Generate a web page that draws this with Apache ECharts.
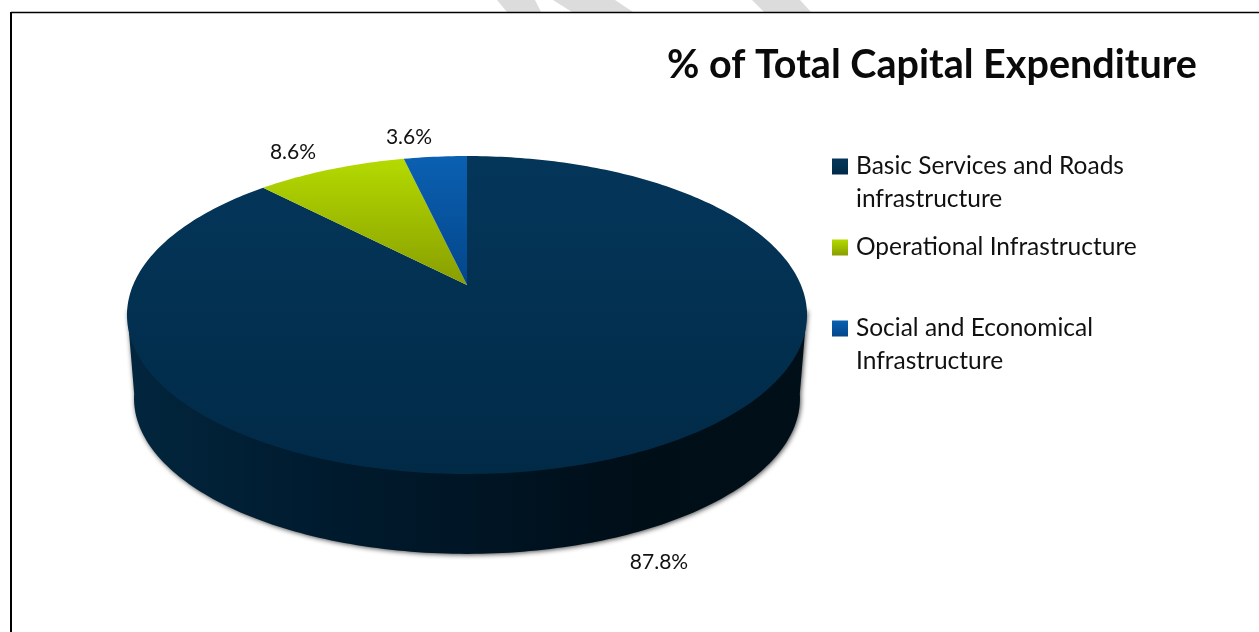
<!DOCTYPE html>
<html>
<head>
<meta charset="utf-8">
<style>html,body{margin:0;padding:0;background:#fff}#c{width:1259px;height:632px}</style>
<script src="https://cdn.jsdelivr.net/npm/echarts@6/dist/echarts.min.js"></script>
</head>
<body>
<div id="c"></div>
<script>
const categories = ['Basic Services and Roads\ninfrastructure', 'Operational Infrastructure', 'Social and Economical\nInfrastructure'];
const values = [87.8, 8.6, 3.6];
const titleText = '% of Total Capital Expenditure';

const colorStops = [['#04365a', '#012a47'], ['#b4da00', '#889e00'], ['#0b60b2', '#03468a']];
const labelPos = [[659, 562], [293, 152], [409, 137]];
const legendTops = [117, 231, 279];
const apex = [467, 285];
const topRim = { R: 333.9, A: 153.3, k: 0.1887, x: 467, y: 285 };
const lowRim = { R: 327, A: 150, k: 0.1887, x: 467, y: 369 };

function project(p, deg) {
  const t = deg * Math.PI / 180, u = Math.sin(t), v = Math.cos(t), w = 1 + p.k * v;
  return [p.x + p.R * u / w, p.y - p.A * v / w];
}
function arc(p, a0, a1) {
  const pts = [], n = Math.max(2, Math.ceil(Math.abs(a1 - a0)));
  for (let i = 0; i <= n; i++) pts.push(project(p, a0 + (a1 - a0) * i / n));
  return pts;
}
function grad(c, horizontal) {
  return { type: 'linear', x: 0, y: 0, x2: horizontal ? 1 : 0, y2: horizontal ? 0 : 1,
    colorStops: c.map((col, i) => ({ offset: i / (c.length - 1), color: col })) };
}
const total = values.reduce((a, b) => a + b, 0);
const fontName = 'Lato';

function renderSlice(index) {
  return function (params, api) {
    const value = api.value(0);
    const before = values.slice(0, index).reduce((a, b) => a + b, 0);
    const a0 = before / total * 360, a1 = a0 + value / total * 360;
    const children = [];
    if (a1 > 99 && a0 < 261) {
      const leftA = 260.8, rightA = 99.2;
      const rimPts = arc(lowRim, rightA, leftA).reverse();
      const wall = [project(topRim, leftA)].concat(rimPts, [project(topRim, rightA)]);
      children.push({
        type: 'polygon', shape: { points: wall },
        style: {
          fill: grad(['#02263e', '#001c30', '#001525', '#000e18', '#000f18'], true),
          shadowBlur: 5, shadowColor: 'rgba(0,0,0,0.7)', shadowOffsetX: 1, shadowOffsetY: 1
        }
      });
    }
    const face = [apex].concat(arc(topRim, a0, a1));
    children.push({ type: 'polygon', shape: { points: face }, style: { fill: grad(colorStops[index]) } });
    children.push({
      type: 'text', x: labelPos[index][0], y: labelPos[index][1],
      style: { text: value.toFixed(1) + '%', fill: '#111', font: '21px ' + fontName, align: 'center', verticalAlign: 'middle' }
    });
    return { type: 'group', children };
  };
}

const chart = echarts.init(document.getElementById('c'), null, { renderer: 'canvas' });
chart.setOption({
  animation: false,
  backgroundColor: '#fff',
  title: {
    text: titleText, left: 662, top: 40,
    textStyle: { fontFamily: fontName, fontSize: 39.5, fontWeight: 'bold', color: '#0a0a0a' }
  },
  legend: categories.map((name, i) => ({
    data: [name], left: 832, top: legendTops[i], orient: 'vertical',
    padding: 0, itemWidth: 16, itemHeight: 16, icon: 'rect', selectedMode: false,
    // A leading blank line centres the symbol on the first line of a two-line label.
    formatter: n => (n.includes('\n') ? '\n' : '') + n,
    textStyle: { fontFamily: fontName, fontSize: 24.5, lineHeight: 33, color: '#111', padding: [0, 0, 0, 3] }
  })),
  graphic: [
    { type: 'polygon', silent: true, shape: { points: [[497, 0], [535, 0], [541, 12], [507, 12]] }, style: { fill: '#dcdcdc' } },
    { type: 'polygon', silent: true, shape: { points: [[553, 0], [615, 0], [633, 12], [572, 12]] }, style: { fill: '#dcdcdc' } },
    { type: 'polygon', silent: true, shape: { points: [[752, 0], [800, 0], [811, 12], [764, 12]] }, style: { fill: '#dcdcdc' } },
    { type: 'line', silent: true, shape: { x1: 11, y1: 12.5, x2: 1259, y2: 12.5 }, style: { stroke: '#000', lineWidth: 1.5 } },
    { type: 'line', silent: true, shape: { x1: 11, y1: 12, x2: 11, y2: 632 }, style: { stroke: '#000', lineWidth: 2 } }
  ],
  series: categories.map((name, i) => ({
    type: 'custom', name, coordinateSystem: 'none',
    itemStyle: { color: grad(colorStops[i]) },
    renderItem: renderSlice(i),
    data: [[values[i]]]
  }))
});
</script>
</body>
</html>
